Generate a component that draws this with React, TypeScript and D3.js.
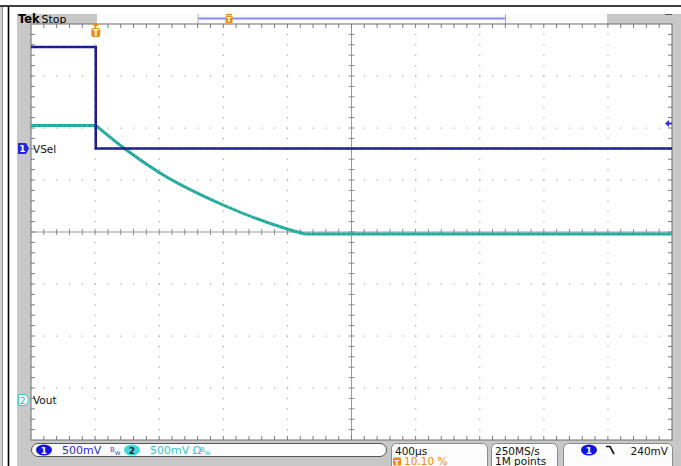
import React from "react";
import * as d3 from "d3";

// ---- data (time in µs, volts) ----
const ch1Time = [-404, 0, 0, 3596];
const ch1Volts = [0.976, 0.976, 0, 0];
const ch2Time = [-404, 0, 183, 401, 795, 1194, 1306, 3596];
const ch2Volts = [2.64, 2.64, 2.413, 2.183, 1.875, 1.644, 1.596, 1.596];
const ch1Label = "VSel";
const ch2Label = "Vout";
const headerTexts = ["Tek", "Stop"];
const scaleTexts = ["500mV", "500mV Ω"];
const timeTexts = ["400µs", "10.10 %"];
const acqTexts = ["250MS/s", "1M points"];
const trigTexts = ["240mV"];

const W = 681, H = 466;
const GX0 = 31, GX1 = 672, GY0 = 24, GY1 = 440;
const VPD = 0.5; // volts per division
const ch1Pos = (232 - 148.5) / 52; // divs
const ch2Pos = (232 - 400) / 52;
const trigLevel = 0.24;

export default function App() {
  const x = d3.scaleLinear().domain([-404, 3596]).range([GX0, GX1]);
  const yDiv = d3.scaleLinear().domain([-4, 4]).range([GY1, GY0]);
  const y1 = (v: number) => yDiv(v / VPD + ch1Pos);
  const y2 = (v: number) => yDiv(v / VPD + ch2Pos);
  const xDiv = d3.scaleLinear().domain([0, 10]).range([GX0, GX1]);

  const line1 = d3.line<number>().x((_, i) => x(ch1Time[i])).y((d) => y1(d));
  const pts2: [number, number][] = ch2Time.map((t, i) => [t, ch2Volts[i]]);
  const n = pts2.length;
  const flat = d3.line<[number, number]>().x((d) => x(d[0])).y((d) => y2(d[1]));
  const decay = d3
    .line<[number, number]>()
    .x((d) => x(d[0]))
    .y((d) => y2(d[1]))
    .curve(d3.curveMonotoneX);
  const ch2Path =
    (flat(pts2.slice(0, 2)) || "") +
    (decay(pts2.slice(1, n - 1)) || "") +
    (flat(pts2.slice(n - 2)) || "");

  const dots: JSX.Element[] = [];
  for (let i = 1; i < 10; i++) {
    if (i === 5) continue;
    for (let k = 1; k < 40; k++) {
      if (k % 5 === 0) continue;
      dots.push(<rect key={`v${i}-${k}`} x={xDiv(i) - 0.5} y={yDiv(-4 + k / 5) - 0.5} width={1.2} height={1.2} fill="#a8a8a8" />);
    }
  }
  for (let j = 1; j < 8; j++) {
    if (j === 4) continue;
    for (let k = 1; k < 50; k++) {
      if (k % 5 === 0) continue;
      dots.push(<rect key={`h${j}-${k}`} x={xDiv(k / 5) - 0.5} y={yDiv(-4 + j) - 0.5} width={1.2} height={1.2} fill="#a8a8a8" />);
    }
  }
  for (let i = 1; i < 10; i++)
    for (let j = 1; j < 8; j++) {
      if (i === 5 || j === 4) continue;
      dots.push(<rect key={`c${i}-${j}`} x={xDiv(i) - 0.6} y={yDiv(-4 + j) - 0.6} width={1.4} height={1.4} fill="#a0a0a0" />);
    }

  const ticks: JSX.Element[] = [];
  const cx = xDiv(5), cy = yDiv(0);
  for (let k = 1; k < 50; k++) {
    const xx = xDiv(k / 5);
    ticks.push(<line key={`ct${k}`} x1={xx} x2={xx} y1={cy - 3} y2={cy + 3} stroke="#8c8c8c" />);
    ticks.push(<line key={`tt${k}`} x1={xx} x2={xx} y1={GY0} y2={GY0 + 4} stroke="#7a7a7a" />);
    ticks.push(<line key={`bt${k}`} x1={xx} x2={xx} y1={GY1} y2={GY1 - 4} stroke="#7a7a7a" />);
  }
  for (let k = 1; k < 40; k++) {
    const yy = yDiv(-4 + k / 5);
    ticks.push(<line key={`cv${k}`} x1={cx - 3} x2={cx + 3} y1={yy} y2={yy} stroke="#8c8c8c" />);
    ticks.push(<line key={`lt${k}`} x1={GX0} x2={GX0 + 4} y1={yy} y2={yy} stroke="#7a7a7a" />);
    ticks.push(<line key={`rt${k}`} x1={GX1} x2={GX1 - 4} y1={yy} y2={yy} stroke="#7a7a7a" />);
  }

  const font = "DejaVu Sans, sans-serif";
  const tx = x(0);
  const trigY = y1(trigLevel);
  const m1 = y1(0);
  const m2 = y2(0);

  return (
    <svg width={W} height={H} style={{ position: "absolute", left: 0, top: 0, background: "#fff" }} fontFamily={font}>
      {/* outer frame */}
      <rect x={0} y={7} width={2} height={H - 7} fill="#d0d0d0" />
      <line x1={2.5} x2={2.5} y1={7} y2={H} stroke="#909090" />
      <line x1={0} x2={W} y1={6} y2={6} stroke="#000" strokeWidth={1.6} />
      <line x1={8.5} x2={8.5} y1={6} y2={H} stroke="#000" strokeWidth={1.6} />
      {/* screen background */}
      <rect x={17} y={14} width={W - 17} height={H - 14} fill="#c8c8c8" />
      {/* header */}
      <rect x={97} y={14} width={510} height={10} fill="#fbfbfb" />
      <line x1={198} x2={505} y1={18.5} y2={18.5} stroke="#8a8aff" strokeWidth={2} />
      <line x1={198} x2={198} y1={14} y2={24} stroke="#b0b0b0" />
      <line x1={505.5} x2={505.5} y1={14} y2={24} stroke="#b0b0b0" />
      <line x1={665} x2={672} y1={14.5} y2={14.5} stroke="#555" />
      <text x={18} y={22.5} fontSize={11.5} fontWeight="bold" fill="#000">{headerTexts[0]}</text>
      <text x={41.5} y={22.5} fontSize={11} fill="#000">{headerTexts[1]}</text>
      {/* record trigger marker */}
      <g transform="translate(229,14)">
        <rect x={-3} y={0} width={6} height={1.5} fill="#f08a10" />
        <rect x={-3.5} y={2} width={7} height={7} rx={1} fill="#f08a10" />
        <text x={0} y={8} fontSize={7} fontWeight="bold" fill="#fff" textAnchor="middle">T</text>
      </g>
      {/* graticule */}
      <rect x={GX0} y={GY0} width={GX1 - GX0} height={GY1 - GY0} fill="#fff" />
      {dots}
      <line x1={cx} x2={cx} y1={GY0} y2={GY1} stroke="#999" />
      <line x1={GX0} x2={GX1} y1={cy} y2={cy} stroke="#999" />
      {ticks}
      <rect x={GX0} y={GY0} width={GX1 - GX0} height={GY1 - GY0} fill="none" stroke="#6e6e6e" />
      {/* traces */}
      <path d={ch2Path} fill="none" stroke="#23a89e" strokeWidth={3} />
      <path d={ch2Path} fill="none" stroke="#3cc4b8" strokeWidth={1} strokeDasharray="2 3" />
      <path d={line1(ch1Volts) || ""} fill="none" stroke="#1a1a8c" strokeWidth={2.6} />
      <path d={line1(ch1Volts) || ""} fill="none" stroke="#3030b0" strokeWidth={0.8} strokeDasharray="3 4" />
      {/* trigger position marker */}
      <g transform={`translate(${tx},24)`}>
        <path d="M-4,0 L4,0 L0,3 Z" fill="#f08a10" />
        <rect x={-4.5} y={4} width={9} height={9} rx={2} fill="#f08a10" />
        <text x={0} y={12} fontSize={9} fontWeight="bold" fill="#fff" textAnchor="middle">T</text>
      </g>
      {/* trigger level arrow */}
      <path d={`M${GX1 - 7},${trigY} L${GX1 - 3},${trigY - 3.5} L${GX1 - 3},${trigY - 1} L${GX1},${trigY - 1} L${GX1},${trigY + 1} L${GX1 - 3},${trigY + 1} L${GX1 - 3},${trigY + 3.5} Z`} fill="#3030e8" />
      {/* channel markers */}
      <path d={`M18,${m1 - 5.5} L26,${m1 - 5.5} L29,${m1} L26,${m1 + 5.5} L18,${m1 + 5.5} Z`} fill="#2424dc" />
      <text x={22.5} y={m1 + 3.5} fontSize={9} fontWeight="bold" fill="#fff" textAnchor="middle">1</text>
      <text x={33} y={m1 + 4} fontSize={10.5} fill="#111">{ch1Label}</text>
      <path d={`M18.5,${m2 - 5.5} L26,${m2 - 5.5} L29,${m2} L26,${m2 + 5.5} L18.5,${m2 + 5.5} Z`} fill="#fff" stroke="#3cc8c8" />
      <text x={22.5} y={m2 + 3.5} fontSize={9} fill="#30b8c0" textAnchor="middle">2</text>
      <text x={33} y={m2 + 4} fontSize={10.5} fill="#111">{ch2Label}</text>
      {/* bottom readouts */}
      <rect x={31.5} y={443.5} width={355} height={13} rx={6.5} fill="#fcfcfc" stroke="#555" />
      <ellipse cx={44} cy={450} rx={8} ry={5.5} fill="#1414e0" />
      <text x={44} y={453.5} fontSize={9} fontWeight="bold" fill="#fff" textAnchor="middle">1</text>
      <text x={62} y={454} fontSize={11} fill="#2a2ad8">{scaleTexts[0]}</text>
      <text x={110} y={454} fontSize={7} fill="#4a4ad0"><tspan dy={-2}>B</tspan><tspan dy={3}>w</tspan></text>
      <ellipse cx={132} cy={450} rx={8} ry={5.5} fill="#40d8d8" />
      <text x={132} y={453.5} fontSize={9} fontWeight="bold" fill="#123" textAnchor="middle">2</text>
      <text x={150} y={454} fontSize={11} fill="#38c4cc">{scaleTexts[1]}</text>
      <text x={200} y={454} fontSize={7} fill="#38c4cc"><tspan dy={-2}>B</tspan><tspan dy={3}>w</tspan></text>
      <rect x={391.5} y={443.5} width={96} height={30} rx={5} fill="#fcfcfc" stroke="#8a8a8a" />
      <text x={395} y={454.5} fontSize={10.5} fill="#111">{timeTexts[0]}</text>
      <rect x={393} y={457.5} width={8} height={8} rx={1} fill="#f08a10" />
      <text x={397} y={464.5} fontSize={7} fontWeight="bold" fill="#fff" textAnchor="middle">T</text>
      <text x={404} y={465} fontSize={10.5} fill="#f08a10">{timeTexts[1]}</text>
      <rect x={491.5} y={443.5} width={66} height={30} rx={5} fill="#fcfcfc" stroke="#8a8a8a" />
      <text x={495} y={454.5} fontSize={10.5} fill="#111">{acqTexts[0]}</text>
      <text x={495} y={465} fontSize={10.5} fill="#111">{acqTexts[1]}</text>
      <rect x={563.5} y={443.5} width={109} height={30} rx={5} fill="#fcfcfc" stroke="#8a8a8a" />
      <ellipse cx={589} cy={450} rx={8} ry={5.5} fill="#1414e0" />
      <text x={589} y={453.5} fontSize={9} fontWeight="bold" fill="#fff" textAnchor="middle">1</text>
      <path d="M606,446.5 H610 L614,454" fill="none" stroke="#111" strokeWidth={1.6} />
      <text x={668} y={454.5} fontSize={10.5} fill="#111" textAnchor="end">{trigTexts[0]}</text>
    </svg>
  );
}
